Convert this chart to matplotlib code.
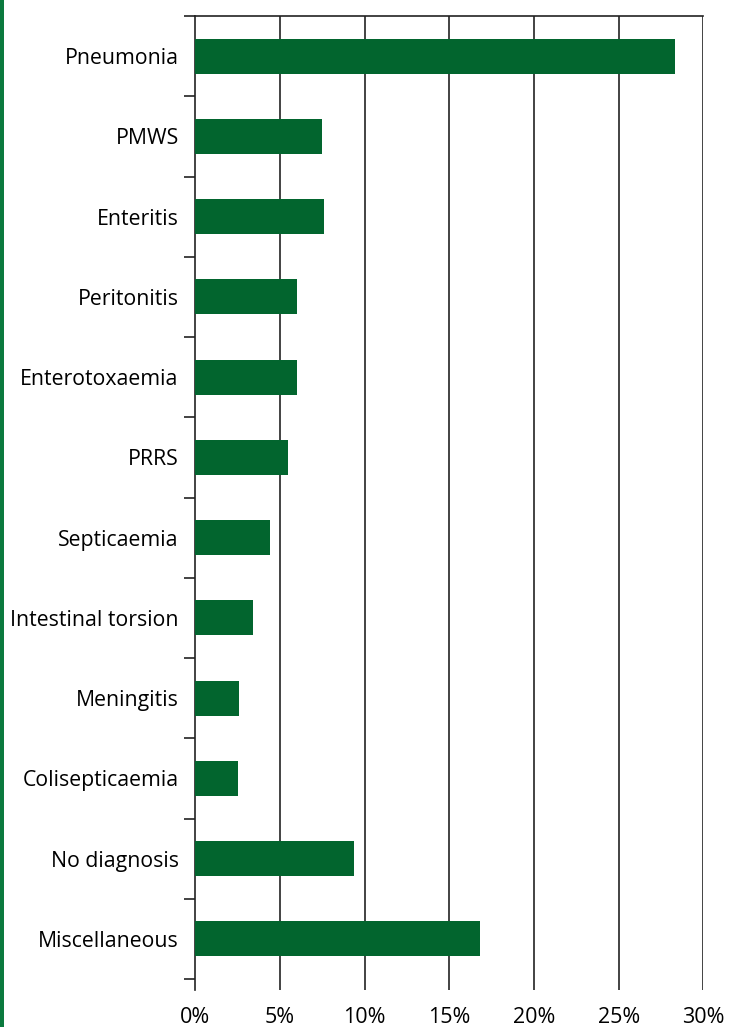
import matplotlib
matplotlib.use("Agg")
import matplotlib.pyplot as plt
from matplotlib.patches import Rectangle
from matplotlib.ticker import FixedLocator, FuncFormatter

# Causes of death, share of total (%)
causes = ["Pneumonia", "PMWS", "Enteritis", "Peritonitis", "Enterotoxaemia",
          "PRRS", "Septicaemia", "Intestinal torsion", "Meningitis",
          "Colisepticaemia", "No diagnosis", "Miscellaneous"]
shares = [28.3, 7.5, 7.6, 6.0, 6.0, 5.5, 4.4, 3.4, 2.6, 2.5, 9.4, 16.8]
x_ticks = [0, 5, 10, 15, 20, 25, 30]

bar_color = "#02652e"
grid_color = "#222222"

plt.rcParams["font.family"] = ["Open Sans", "DejaVu Sans"]

fig = plt.figure(figsize=(7.30, 10.27), dpi=100)
ax = fig.add_axes([195.3 / 730, 1 - 990 / 1027, (703.3 - 195.3) / 730, (990 - 16) / 1027])

# green stripe along the left edge of the page
fig.patches.append(Rectangle((0, 0), 3.5 / 730, 1, transform=fig.transFigure,
                             facecolor="#0b7a3e", edgecolor="none"))

y = list(range(len(causes)))
ax.barh(y, shares, height=0.435, color=bar_color, zorder=3)

ax.set_xlim(0, 30)
ax.set_ylim(-0.5 + (990 - 16) / 80.25, -0.5)

# vertical gridlines at every 5%
for v in x_ticks[1:]:
    ax.axvline(v, color=grid_color, lw=1.2, zorder=2)

ax.set_xticks(x_ticks)
ax.xaxis.set_major_formatter(FuncFormatter(lambda v, p: f"{v:.0f}%"))
ax.tick_params(axis="x", length=0, pad=12, labelsize=15.5)

# category boundaries get the tick marks, labels sit between them
ax.yaxis.set_major_locator(FixedLocator([i - 0.5 for i in range(len(causes) + 1)]))
ax.yaxis.set_major_formatter(FuncFormatter(lambda v, p: ""))
ax.yaxis.set_minor_locator(FixedLocator(y))
ax.set_yticklabels(causes, minor=True)
ax.tick_params(axis="y", which="major", length=8, width=1.2, color=grid_color, direction="out")
ax.tick_params(axis="y", which="minor", length=0, pad=12, labelsize=15.3)

for side in ["right", "bottom"]:
    ax.spines[side].set_visible(False)
for side in ["top", "left"]:
    ax.spines[side].set_color(grid_color)
    ax.spines[side].set_linewidth(1.2)

fig.savefig("out.png", dpi=100)
